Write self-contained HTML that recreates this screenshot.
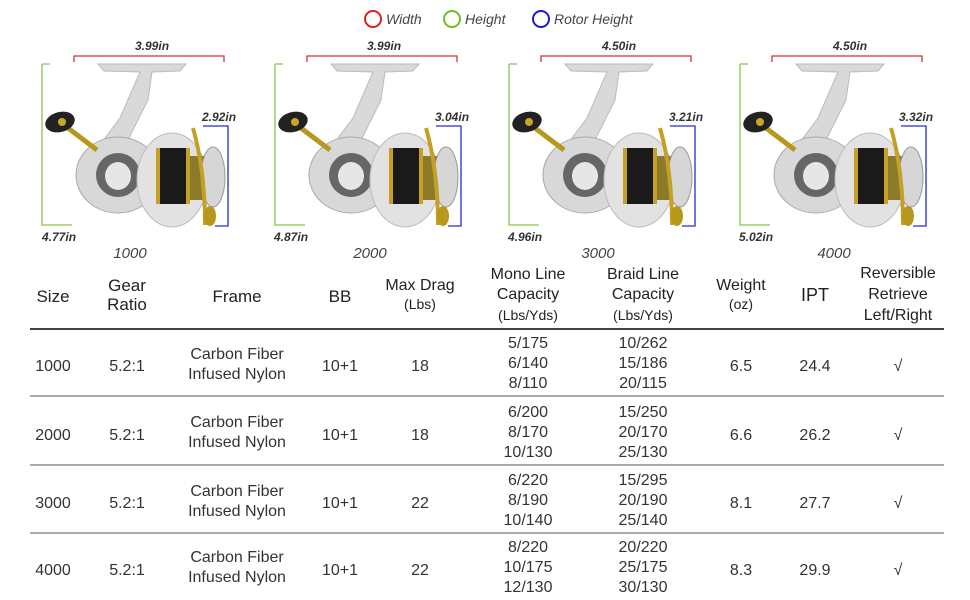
<!DOCTYPE html>
<html><head><meta charset="utf-8"><style>
body{margin:0;background:#fff;}
#w{position:relative;width:970px;height:600px;overflow:hidden;font-family:"Liberation Sans",sans-serif;color:#333;}
.t{position:absolute;white-space:nowrap;text-align:center;transform:translateX(-50%);line-height:20px;}
.h{font-size:17px;color:#222;}
.s{font-size:14px;}
.d{font-size:16px;color:#333;}
.lab{position:absolute;font-style:italic;font-weight:bold;font-size:12px;color:#333;white-space:nowrap;}
.num{position:absolute;font-style:italic;font-size:15px;color:#444;transform:translateX(-50%);}
.line{position:absolute;left:30px;width:914px;height:2px;background:#aaa;}
</style></head><body><div id="w">
<svg width="970" height="260" style="position:absolute;left:0;top:0">
<defs>
<g id="reel">
 <path d="M98,64 L186,64 L180,71 L152,72 L148,100 L128,140 L102,158 L96,150 L120,118 L140,72 L104,71 Z" fill="#d9d9d9" stroke="#bbb"/>
 <ellipse cx="118" cy="175" rx="42" ry="38" fill="#d8d8d8" stroke="#aaa"/>
 <ellipse cx="118" cy="175" rx="22" ry="22" fill="#666"/>
 <ellipse cx="118" cy="176" rx="13" ry="14" fill="#e6e6e6"/>
 <line x1="60" y1="122" x2="97" y2="150" stroke="#b8981c" stroke-width="5"/>
 <ellipse cx="60" cy="122" rx="15" ry="10" fill="#222" transform="rotate(-15 60 122)"/>
 <circle cx="62" cy="122" r="4" fill="#c9a62a"/>
 <ellipse cx="172" cy="180" rx="35" ry="47" fill="#e2e2e2" stroke="#bbb"/>
 <rect x="158" y="148" width="28" height="56" fill="#1a1a1a"/>
 <rect x="156" y="148" width="4" height="56" fill="#c4a124"/>
 <rect x="186" y="148" width="4" height="56" fill="#c4a124"/>
 <rect x="190" y="156" width="14" height="44" fill="#8a7a2a"/>
 <ellipse cx="213" cy="177" rx="12" ry="30" fill="#d6d6d6" stroke="#999"/>
 <path d="M193,128 Q205,170 205,225" fill="none" stroke="#c4a124" stroke-width="4"/>
 <ellipse cx="210" cy="216" rx="6" ry="10" fill="#b8981c"/>
 <path d="M42,64 L50,64 M42,64 L42,225 L72,225" fill="none" stroke="#8bc34a" stroke-width="1.3"/>
 <path d="M74,62 L74,56 L224,56 L224,62" fill="none" stroke="#d32f3f" stroke-width="1.3"/>
 <path d="M203,126 L228,126 L228,226 L215,226" fill="none" stroke="#2a2ad0" stroke-width="1.3"/>
</g>
</defs>
<use href="#reel"/>
<use href="#reel" x="233"/>
<use href="#reel" x="467"/>
<use href="#reel" x="698"/>
<circle cx="373" cy="19" r="8" fill="none" stroke="#e02020" stroke-width="2"/>
<circle cx="452" cy="19" r="8" fill="none" stroke="#6cbf2a" stroke-width="2"/>
<circle cx="541" cy="19" r="8" fill="none" stroke="#1a1ad8" stroke-width="2"/>
</svg>
<div class="lab" style="left:386px;top:11px;font-weight:normal;font-size:14px;color:#444">Width</div>
<div class="lab" style="left:465px;top:11px;font-weight:normal;font-size:14px;color:#444">Height</div>
<div class="lab" style="left:554px;top:11px;font-weight:normal;font-size:14px;color:#444">Rotor Height</div>

<div class="lab" style="left:135px;top:39px">3.99in</div>
<div class="lab" style="left:202px;top:110px">2.92in</div>
<div class="lab" style="left:42px;top:230px">4.77in</div>
<div class="num" style="left:130px;top:245px">1000</div>

<div class="lab" style="left:367px;top:39px">3.99in</div>
<div class="lab" style="left:435px;top:110px">3.04in</div>
<div class="lab" style="left:274px;top:230px">4.87in</div>
<div class="num" style="left:370px;top:245px">2000</div>

<div class="lab" style="left:602px;top:39px">4.50in</div>
<div class="lab" style="left:669px;top:110px">3.21in</div>
<div class="lab" style="left:508px;top:230px">4.96in</div>
<div class="num" style="left:598px;top:245px">3000</div>

<div class="lab" style="left:833px;top:39px">4.50in</div>
<div class="lab" style="left:899px;top:110px">3.32in</div>
<div class="lab" style="left:739px;top:230px">5.02in</div>
<div class="num" style="left:834px;top:245px">4000</div>

<div class="t h" style="left:53px;top:287px">Size</div>
<div class="t h" style="left:127px;top:276px;line-height:19px">Gear<br>Ratio</div>
<div class="t h" style="left:237px;top:287px">Frame</div>
<div class="t h" style="left:340px;top:287px">BB</div>
<div class="t h" style="left:420px;top:276px;line-height:19px;font-size:16px">Max Drag<br><span class="s">(Lbs)</span></div>
<div class="t h" style="left:528px;top:265px;line-height:20px;font-size:16px">Mono Line<br>Capacity<br><span class="s">(Lbs/Yds)</span></div>
<div class="t h" style="left:643px;top:265px;line-height:20px;font-size:16px">Braid Line<br>Capacity<br><span class="s">(Lbs/Yds)</span></div>
<div class="t h" style="left:741px;top:276px;line-height:19px;font-size:16px">Weight<br><span class="s">(oz)</span></div>
<div class="t h" style="left:815px;top:285px;font-size:18px">IPT</div>
<div class="t h" style="left:898px;top:263px;line-height:21px;font-size:16px">Reversible<br>Retrieve<br>Left/Right</div>
<div class="line" style="top:328px;background:#444"></div>
<div class="line" style="top:395px"></div>
<div class="line" style="top:464px"></div>
<div class="line" style="top:532px"></div>

<!-- rows -->
<div class="t d" style="left:53px;top:357px">1000</div>
<div class="t d" style="left:127px;top:357px">5.2:1</div>
<div class="t d" style="left:237px;top:345px">Carbon Fiber<br>Infused Nylon</div>
<div class="t d" style="left:340px;top:357px">10+1</div>
<div class="t d" style="left:420px;top:357px">18</div>
<div class="t d" style="left:528px;top:334px">5/175<br>6/140<br>8/110</div>
<div class="t d" style="left:643px;top:334px">10/262<br>15/186<br>20/115</div>
<div class="t d" style="left:741px;top:357px">6.5</div>
<div class="t d" style="left:815px;top:357px">24.4</div>
<div class="t d" style="left:898px;top:357px">√</div>

<div class="t d" style="left:53px;top:426px">2000</div>
<div class="t d" style="left:127px;top:426px">5.2:1</div>
<div class="t d" style="left:237px;top:413px">Carbon Fiber<br>Infused Nylon</div>
<div class="t d" style="left:340px;top:426px">10+1</div>
<div class="t d" style="left:420px;top:426px">18</div>
<div class="t d" style="left:528px;top:403px">6/200<br>8/170<br>10/130</div>
<div class="t d" style="left:643px;top:403px">15/250<br>20/170<br>25/130</div>
<div class="t d" style="left:741px;top:426px">6.6</div>
<div class="t d" style="left:815px;top:426px">26.2</div>
<div class="t d" style="left:898px;top:426px">√</div>

<div class="t d" style="left:53px;top:494px">3000</div>
<div class="t d" style="left:127px;top:494px">5.2:1</div>
<div class="t d" style="left:237px;top:482px">Carbon Fiber<br>Infused Nylon</div>
<div class="t d" style="left:340px;top:494px">10+1</div>
<div class="t d" style="left:420px;top:494px">22</div>
<div class="t d" style="left:528px;top:471px">6/220<br>8/190<br>10/140</div>
<div class="t d" style="left:643px;top:471px">15/295<br>20/190<br>25/140</div>
<div class="t d" style="left:741px;top:494px">8.1</div>
<div class="t d" style="left:815px;top:494px">27.7</div>
<div class="t d" style="left:898px;top:494px">√</div>

<div class="t d" style="left:53px;top:561px">4000</div>
<div class="t d" style="left:127px;top:561px">5.2:1</div>
<div class="t d" style="left:237px;top:548px">Carbon Fiber<br>Infused Nylon</div>
<div class="t d" style="left:340px;top:561px">10+1</div>
<div class="t d" style="left:420px;top:561px">22</div>
<div class="t d" style="left:528px;top:538px">8/220<br>10/175<br>12/130</div>
<div class="t d" style="left:643px;top:538px">20/220<br>25/175<br>30/130</div>
<div class="t d" style="left:741px;top:561px">8.3</div>
<div class="t d" style="left:815px;top:561px">29.9</div>
<div class="t d" style="left:898px;top:561px">√</div>
</div></body></html>
